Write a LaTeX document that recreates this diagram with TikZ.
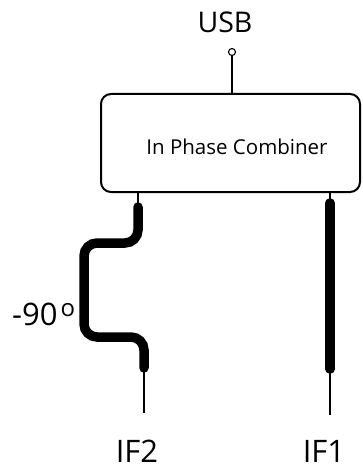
\documentclass[tikz,border=0pt]{standalone}
\usepackage{fontspec}
\setmainfont{Open Sans}
\usepackage{tikz}

\begin{document}
\begin{tikzpicture}[x=1pt, y=-1pt,
        thin wire/.style={line width=1.1pt},
        thick wire/.style={line width=9.5pt, line cap=round},
        big text/.style={font=\fontsize{31}{33}\selectfont, inner sep=0pt}]
            \useasboundingbox (0,0) rectangle (362,470);
            % combiner box
            \node[draw, line width=2pt, rounded corners=10pt,
                  minimum width=259pt, minimum height=98pt] (comb) at (230.5,143) {};
            \node[font=\fontsize{20.5}{22}\selectfont, inner sep=0pt] (combname) at (237,147) {In Phase Combiner};
            % output
            \node[big text, font=\fontsize{28.5}{30}\selectfont, anchor=base] (usb) at (225,33) {USB};
            \node[draw, circle, thin wire, minimum size=7pt, inner sep=0pt] (usbpin) at (232,52) {};
            \draw[thin wire] (usbpin) -- (comb.north -| usbpin);
            % left leg with -90 degree line
            \coordinate (lefttop) at (138,207);
            \coordinate (leftbot) at (144,368);
            \coordinate (leftend) at (144,413);
            \draw[thin wire] (comb.south -| lefttop) -- (lefttop);
            \draw[thick wire, rounded corners=13pt] (lefttop) -- (138,243) -- (84,243)
                -- (84,337) -- (144,337) -- (leftbot);
            \draw[thin wire] (leftbot) -- (leftend);
            \node[big text, anchor=base] (if2) at (137,462) {IF2};
            \node[big text, anchor=base west] (phase) at (12,325)
                {-90\hspace{3pt}\raisebox{8.5pt}{\fontsize{24}{24}\selectfont o}};
            % right leg
            \coordinate (righttop) at (330,203);
            \coordinate (rightbot) at (330,369);
            \coordinate (rightend) at (330,415);
            \draw[thin wire] (comb.south -| righttop) -- (righttop);
            \draw[thick wire] (righttop) -- (rightbot);
            \draw[thin wire] (rightbot) -- (rightend);
            \node[big text, anchor=base] (if1) at (324,462) {IF1};
        \end{tikzpicture}
\end{document}
